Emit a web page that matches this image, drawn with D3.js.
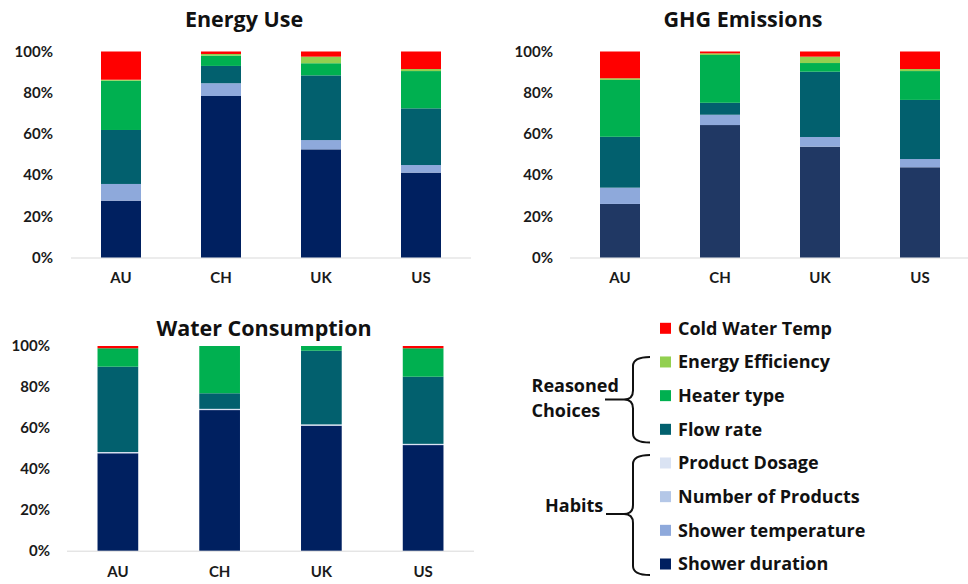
<!DOCTYPE html>
<html><head><meta charset="utf-8">
<script src="https://cdn.jsdelivr.net/npm/d3@7"></script>
<style>
html,body{margin:0;padding:0;background:#fff;}
svg{display:block;font-family:"Open Sans",Lato,sans-serif;font-weight:bold;}
</style></head>
<body><svg id="c" width="968" height="584"></svg>
<script>
// ---- data ----
const countries = ["AU", "CH", "UK", "US"];
const seriesNames = ["Shower duration", "Shower temperature", "Number of Products", "Product Dosage",
                     "Flow rate", "Heater type", "Energy Efficiency", "Cold Water Temp"];
const yTicks = [0, 20, 40, 60, 80, 100];
// values (%) per series, in order of seriesNames, per country
const energyUse = [
  [27.6, 78.4, 52.5, 41.2],
  [8.1, 6.2, 4.5, 3.7],
  [0, 0, 0, 0],
  [0, 0, 0, 0],
  [26.2, 8.4, 31.4, 27.5],
  [23.9, 5.0, 5.9, 18.1],
  [0.5, 0.8, 3.2, 1.0],
  [13.7, 1.2, 2.5, 8.5]
];
const ghgEmissions = [
  [26.0, 64.3, 53.8, 43.8],
  [7.9, 5.0, 4.7, 4.0],
  [0, 0, 0, 0],
  [0, 0, 0, 0],
  [24.7, 5.8, 31.7, 28.7],
  [27.6, 23.2, 4.2, 14.0],
  [0.8, 0.8, 3.1, 1.0],
  [13.0, 0.9, 2.5, 8.5]
];
const waterConsumption = [
  [47.6, 68.7, 61.1, 51.6],
  [0, 0, 0, 0],
  [0, 0, 0, 0],
  [0.6, 0.6, 0.6, 0.6],
  [41.7, 7.6, 36.0, 32.8],
  [9.0, 23.1, 2.3, 13.9],
  [0, 0, 0, 0],
  [1.1, 0, 0, 1.1]
];
const legendOrder = ["Cold Water Temp", "Energy Efficiency", "Heater type", "Flow rate",
                     "Product Dosage", "Number of Products", "Shower temperature", "Shower duration"];

// ---- styles ----
const colors = {
  "Shower duration": "#002060",
  "Shower temperature": "#8EA9DB",
  "Number of Products": "#B4C7E7",
  "Product Dosage": "#DAE3F3",
  "Flow rate": "#02606E",
  "Heater type": "#00B050",
  "Energy Efficiency": "#92D050",
  "Cold Water Temp": "#FF0000"
};

const svg = d3.select("#c");

function drawChart(cfg) {
  const rows = countries.map((c, i) => {
    const o = {country: c};
    seriesNames.forEach((s, j) => o[s] = cfg.values[j][i]);
    return o;
  });
  const stack = d3.stack().keys(seriesNames)(rows);
  const x = d3.scaleBand().domain(countries).range([cfg.x0, cfg.x1]).paddingInner(0.6).paddingOuter(0.3);
  const y = d3.scaleLinear().domain([0, 100]).range([cfg.yBottom, cfg.yTop]);
  const g = svg.append("g");

  g.append("text").attr("x", cfg.titleX).attr("y", cfg.titleY).attr("text-anchor", "middle")
    .attr("font-size", 21.5).attr("fill", "#111").text(cfg.title);

  // baseline
  g.append("line").attr("x1", cfg.x0).attr("x2", cfg.x1).attr("y1", y(0) + 0.5).attr("y2", y(0) + 0.5)
    .attr("stroke", "#d9d9d9").attr("stroke-width", 1);

  stack.forEach(layer => {
    const col = (cfg.override && cfg.override[layer.key]) || colors[layer.key];
    g.selectAll(null).data(layer).join("rect")
      .attr("x", d => x(d.data.country))
      .attr("width", x.bandwidth())
      .attr("y", d => y(d[1]))
      .attr("height", d => Math.max(0, y(d[0]) - y(d[1])))
      .attr("fill", col);
  });

  // y axis
  const ya = d3.axisLeft(y).tickValues(yTicks).tickFormat(d => d + "%").tickSize(0).tickPadding(0);
  const yg = g.append("g").attr("transform", `translate(${cfg.yLabelX},0)`).call(ya);
  yg.select(".domain").remove();
  yg.selectAll("text").attr("font-size", 15).attr("fill", "#1a1a1a")
    .attr("font-family", "Lato, sans-serif").attr("font-weight", "bold");

  // x axis
  const xa = d3.axisBottom(x).tickSize(0).tickPadding(0);
  const xg = g.append("g").attr("transform", `translate(0,${cfg.xLabelY})`).call(xa);
  xg.select(".domain").remove();
  xg.selectAll("text").attr("font-size", 15).attr("fill", "#1a1a1a")
    .attr("font-family", "Lato, sans-serif").attr("font-weight", "bold");
}

drawChart({title: "Energy Use", values: energyUse, x0: 71, x1: 471, yTop: 51.5, yBottom: 257.5,
  yLabelX: 53, xLabelY: 272, titleX: 244, titleY: 27});
drawChart({title: "GHG Emissions", values: ghgEmissions, x0: 570, x1: 970, yTop: 51.5, yBottom: 257.5,
  yLabelX: 553, xLabelY: 272, titleX: 743, titleY: 27, override: {"Shower duration": "#203864"}});
drawChart({title: "Water Consumption", values: waterConsumption, x0: 67, x1: 474, yTop: 346, yBottom: 550.7,
  yLabelX: 50, xLabelY: 566, titleX: 264, titleY: 336});

// ---- legend ----
const lg = svg.append("g");
const ly = d3.scalePoint().domain(legendOrder).range([328.3, 564]);
legendOrder.forEach(k => {
  lg.append("rect").attr("x", 660).attr("y", ly(k) - 5.5).attr("width", 11).attr("height", 11).attr("fill", colors[k]);
  lg.append("text").attr("x", 678).attr("y", ly(k)).attr("dy", "0.35em").attr("font-size", 18)
    .attr("fill", "#111").text(k);
});
// braces
function brace(top, bottom, mid, tipX) {
  const bx = 633, ex = 650, r = 9;
  const p = `M${ex},${top} Q${bx},${top} ${bx},${top + r} L${bx},${mid - r} Q${bx},${mid} ${bx - r},${mid}`
    + ` Q${bx},${mid} ${bx},${mid + r} L${bx},${bottom - r} Q${bx},${bottom} ${ex},${bottom}`
    + ` M${bx - r},${mid} L${tipX},${mid}`;
  lg.append("path").attr("d", p).attr("fill", "none").attr("stroke", "#111").attr("stroke-width", 2);
}
brace(357, 442.5, 399.5, 605);
brace(455, 575, 514, 606);
lg.append("text").attr("x", 531.5).attr("y", 391.7).attr("font-size", 18).attr("fill", "#111").text("Reasoned");
lg.append("text").attr("x", 531.5).attr("y", 417.3).attr("font-size", 18).attr("fill", "#111").text("Choices");
lg.append("text").attr("x", 545).attr("y", 511.7).attr("font-size", 18).attr("fill", "#111").text("Habits");
</script></body></html>
